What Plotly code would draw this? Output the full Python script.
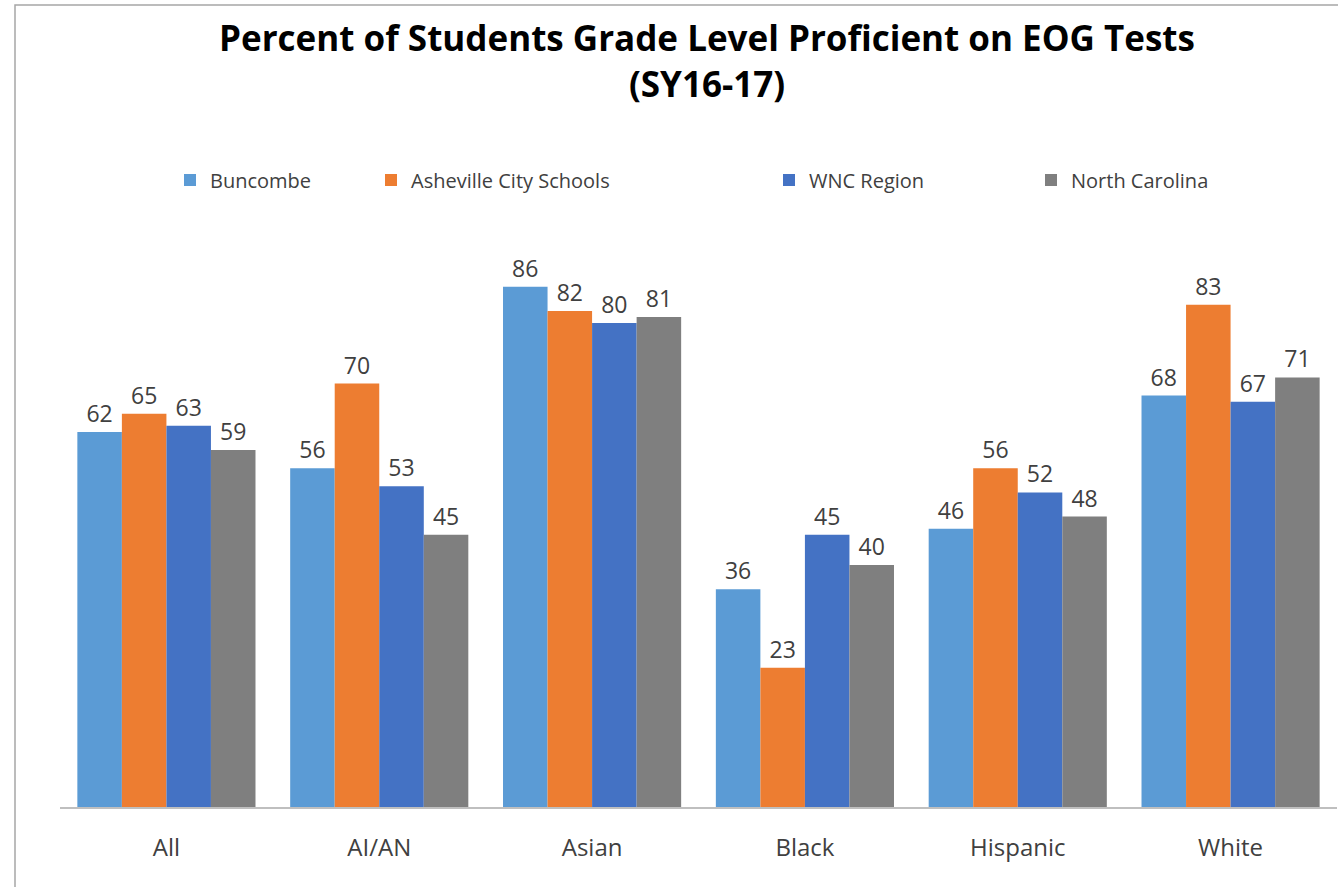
import plotly.graph_objects as go

categories = ["All", "AI/AN", "Asian", "Black", "Hispanic", "White"]
series_names = ["Buncombe", "Asheville City Schools", "WNC Region", "North Carolina"]
buncombe = [62, 56, 86, 36, 46, 68]
asheville = [65, 70, 82, 23, 56, 83]
wnc = [63, 53, 80, 45, 52, 67]
north_carolina = [59, 45, 81, 40, 48, 71]
colors = ["#5B9BD5", "#ED7D31", "#4472C4", "#7F7F7F"]

W, H = 1338, 887
L_M, R_M, T_M, B_M = 60, 1, 202, 80
plot_w = W - L_M - R_M
plot_h = H - T_M - B_M

def px_to_paper_x(px):
    return (px - L_M) / plot_w

def px_to_paper_y(py):
    return (H - B_M - py) / plot_h

legend_keys = ["legend", "legend2", "legend3", "legend4"]
legend_marker_px = [184, 385, 783, 1045]

fig = go.Figure()
for name, vals, col, lk in zip(series_names, [buncombe, asheville, wnc, north_carolina], colors, legend_keys):
    fig.add_trace(go.Bar(
        x=categories, y=vals, name=name, marker=dict(color=col, line=dict(width=0)),
        text=[str(v) for v in vals], textposition="outside",
        textfont=dict(family="Open Sans", size=23, color="#404040"),
        cliponaxis=False, legend=lk,
    ))

legend_font = dict(family="Open Sans", size=20, color="#404040")
cat_font = dict(family="Open Sans", size=24, color="#404040")
layout_legends = {}
for lk, mpx in zip(legend_keys, legend_marker_px):
    layout_legends[lk] = dict(
        x=px_to_paper_x(mpx - 14), xanchor="left",
        y=px_to_paper_y(180), yanchor="middle",
        orientation="h", font=legend_font, bgcolor="rgba(0,0,0,0)",
        borderwidth=0, itemclick=False,
    )

fig.update_layout(
    width=W, height=H,
    margin=dict(l=L_M, r=R_M, t=T_M, b=B_M, pad=0, autoexpand=False),
    paper_bgcolor="white", plot_bgcolor="white",
    barmode="group", bargap=0.163, bargroupgap=0,
    title=dict(
        text="Percent of Students Grade Level Proficient on EOG Tests<br>(SY16-17)",
        x=707 / W, xref="container", xanchor="center",
        y=1 - 51 / H, yref="container", yanchor="middle",
        font=dict(family="Open Sans", size=35, color="#000000", weight="bold"),
    ),
    xaxis=dict(
        showline=True, linecolor="#BFBFBF", linewidth=2,
        tickfont=cat_font, ticks="", ticklabelstandoff=18,
        showgrid=False, zeroline=False, automargin=False,
    ),
    yaxis=dict(range=[0, 100], visible=False, showgrid=False, zeroline=False),
    showlegend=True,
    shapes=[dict(
        type="rect", xref="paper", yref="paper",
        x0=px_to_paper_x(15), x1=px_to_paper_x(1400),
        y0=px_to_paper_y(950), y1=px_to_paper_y(5),
        line=dict(color="#A6A6A6", width=1.5), fillcolor="rgba(0,0,0,0)", layer="below",
    )],
    **layout_legends,
)

fig.write_html("out.html", config={"displayModeBar": False},
               post_script="document.body.style.margin='0px';")
